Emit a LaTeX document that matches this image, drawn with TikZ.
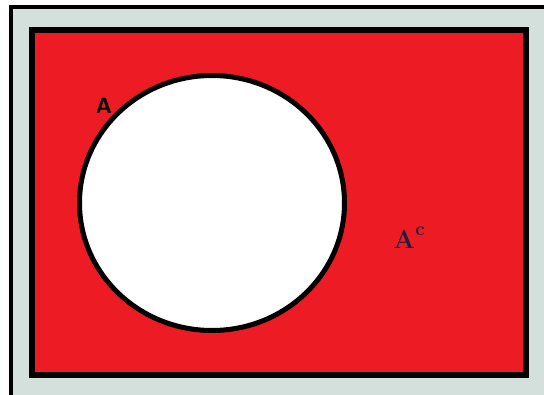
\documentclass[tikz,border=0pt]{standalone}
\usepackage{tikz}
\usetikzlibrary{positioning}
\definecolor{vnred}{RGB}{237,28,36}
\definecolor{vngrey}{RGB}{212,224,220}
\definecolor{vnink}{RGB}{30,30,60}

\begin{document}
\begin{tikzpicture}[x=1pt,y=-1pt,
    every node/.style={inner sep=0pt,outer sep=0pt},
    setlabel/.style={font=\sffamily\bfseries\fontsize{22}{22}\selectfont},
    complabel/.style={font=\bfseries\fontsize{26}{26}\selectfont,text=vnink}]
    \useasboundingbox (0,0) rectangle (544,395);
    \clip (0,0) rectangle (544,395);
    % outer frame
    \draw[line width=4pt,fill=vngrey] (10.5,7.5) rectangle (570,420);
    % universe
    \draw[line width=6pt,fill=vnred] (32,30) rectangle (526,375);
    % the set A
    \draw[line width=5pt,fill=white] (212,203) ellipse [x radius=132.5,y radius=127.5];
    \node[setlabel] (labA) at (104,106) {A};
    \node[complabel] (labAc) at (409,238) {A\raisebox{1.1ex}{\fontsize{19}{19}\selectfont c}};
  \end{tikzpicture}
\end{document}
